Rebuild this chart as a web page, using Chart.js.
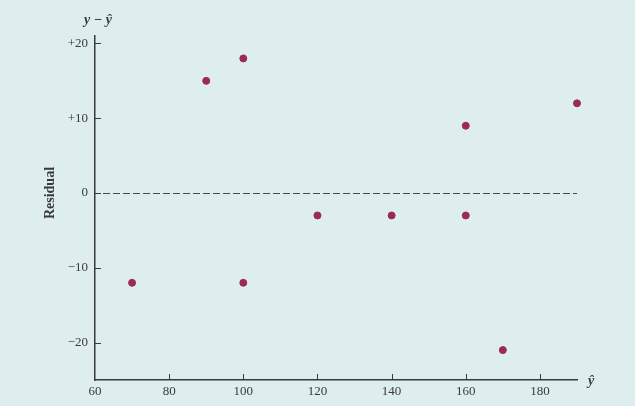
<!DOCTYPE html>
<html>
<head>
<meta charset="utf-8">
<script src="https://cdn.jsdelivr.net/npm/chart.js@4/dist/chart.umd.min.js"></script>
<style>
  html, body { margin: 0; padding: 0; background: #deeded; }
  #wrap { position: relative; width: 635px; height: 406px; }
</style>
</head>
<body>
<div id="wrap"><canvas id="residChart" width="635" height="406"></canvas></div>
<script>
// fitted values (y-hat) and residuals
const fitted    = [70, 90, 100, 100, 120, 140, 160, 160, 170, 190];
const residuals = [-12, 15, 18, -12, -3, -3, 9, -3, -21, 12];
const xTicks = [60, 80, 100, 120, 140, 160, 180];
const yTicks = [-20, -10, 0, 10, 20];

const points = fitted.map((f, i) => ({ x: f, y: residuals[i] }));
const ink = '#3a3a3a';
const serif = "'Liberation Serif', 'DejaVu Serif', serif";

// inner tick marks, zero dashed line and axis titles
const decor = {
  id: 'decor',
  beforeDatasetsDraw(chart) {
    const ctx = chart.ctx;
    const xs = chart.scales.x, ys = chart.scales.y;
    const a = chart.chartArea;
    ctx.save();
    ctx.strokeStyle = ink;
    ctx.lineWidth = 1;
    xTicks.forEach(v => {
      if (v === xs.min) return;
      const px = Math.round(xs.getPixelForValue(v)) + 0.5;
      ctx.beginPath();
      ctx.moveTo(px, a.bottom);
      ctx.lineTo(px, a.bottom - 6);
      ctx.stroke();
    });
    yTicks.forEach(v => {
      const py = Math.round(ys.getPixelForValue(v)) + 0.5;
      ctx.beginPath();
      ctx.moveTo(a.left, py);
      ctx.lineTo(a.left + 6, py);
      ctx.stroke();
    });
    // dashed zero line
    const y0 = Math.round(ys.getPixelForValue(0)) + 0.5;
    ctx.setLineDash([7, 3]);
    ctx.lineDashOffset = -2;
    ctx.strokeStyle = '#4a4a4a';
    ctx.beginPath();
    ctx.moveTo(a.left + 6, y0);
    ctx.lineTo(xs.getPixelForValue(190), y0);
    ctx.stroke();
    ctx.setLineDash([]);

    // axis titles
    ctx.fillStyle = ink;
    ctx.font = "bold italic 14px " + serif;
    ctx.textAlign = 'center';
    ctx.textBaseline = 'alphabetic';
    ctx.fillText('y \u2212 \u0177', a.left + 3, a.top - 12);
    ctx.fillText('\u0177', a.right + 14, a.bottom + 5);

    ctx.font = "bold 14px " + serif;
    ctx.translate(50, ys.getPixelForValue(0));
    ctx.rotate(-Math.PI / 2);
    ctx.textBaseline = 'middle';
    ctx.fillText('Residual', 0, 0);
    ctx.restore();
  }
};

new Chart(document.getElementById('residChart'), {
  type: 'scatter',
  data: {
    datasets: [{
      data: points,
      backgroundColor: '#9b2b55',
      borderColor: '#9b2b55',
      pointRadius: 3.5,
      pointHoverRadius: 3.5,
      clip: false
    }]
  },
  options: {
    responsive: false,
    animation: false,
    layout: { padding: { left: 0, top: 36, right: 58, bottom: 0 } },
    plugins: { legend: { display: false }, tooltip: { enabled: false } },
    scales: {
      x: {
        type: 'linear',
        min: 60,
        max: 190,
        afterBuildTicks: s => { s.ticks = xTicks.map(v => ({ value: v })); },
        afterFit: s => { s.height = 26; },
        grid: { display: false, drawTicks: false, tickLength: 0 },
        border: { display: true, color: ink, width: 1.5 },
        ticks: {
          color: ink,
          padding: 4,
          maxRotation: 0,
          font: { family: serif, size: 13 }
        }
      },
      y: {
        min: -25,
        max: 21,
        afterBuildTicks: s => { s.ticks = yTicks.map(v => ({ value: v })); },
        afterFit: s => { s.width = 95; },
        grid: { display: false, drawTicks: false, tickLength: 0 },
        border: { display: true, color: ink, width: 1.5 },
        ticks: {
          color: ink,
          padding: 7,
          font: { family: serif, size: 13 },
          callback: v => v > 0 ? '+' + v : (v < 0 ? '\u2212' + Math.abs(v) : String(v))
        }
      }
    }
  },
  plugins: [decor]
});
</script>
</body>
</html>
